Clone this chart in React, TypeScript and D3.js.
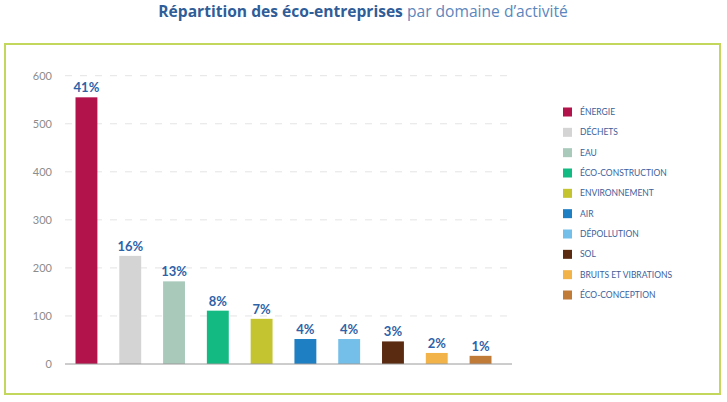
import React from "react";
import * as d3 from "d3";

const categories = [
  "ÉNERGIE",
  "DÉCHETS",
  "EAU",
  "ÉCO-CONSTRUCTION",
  "ENVIRONNEMENT",
  "AIR",
  "DÉPOLLUTION",
  "SOL",
  "BRUITS ET VIBRATIONS",
  "ÉCO-CONCEPTION",
];
const values = [555, 225, 172, 111, 94, 52, 52, 47, 23, 17];
const percents = ["41%", "16%", "13%", "8%", "7%", "4%", "4%", "3%", "2%", "1%"];
const colors = [
  "#b3134b",
  "#d4d4d4",
  "#a9c9bb",
  "#13bb83",
  "#c4c431",
  "#1f7fc3",
  "#74bfe9",
  "#5a2a11",
  "#f2b348",
  "#c07b38",
];
const yTicks = [0, 100, 200, 300, 400, 500, 600];

export default function App() {
  const W = 727;
  const H = 402;
  const font = "Lato, 'Open Sans', sans-serif";
  const x = d3
    .scaleBand<string>()
    .domain(categories)
    .range([65, 502])
    .paddingInner(0.5)
    .paddingOuter(0.24);
  const y = d3.scaleLinear().domain([0, 600]).range([364, 75.7]);
  const gridX0 = 65;
  const gridX1 = 512;
  const legendY = d3
    .scalePoint<string>()
    .domain(categories)
    .range([112, 295]);

  return (
    <svg
      width={W}
      height={H}
      style={{ position: "absolute", left: 0, top: 0, background: "#fff" }}
    >
      <text
        x={363}
        y={16.5}
        textAnchor="middle"
        fontFamily="'Open Sans', sans-serif"
        fontSize={15.6}
      >
        <tspan fill="#2f5d98" fontWeight={700}>
          Répartition des éco-entreprises
        </tspan>
        <tspan fill="#5b86bd"> par domaine d’activité</tspan>
      </text>
      <rect
        x={5}
        y={44}
        width={715}
        height={350}
        fill="#fff"
        stroke="#c3d75c"
        strokeWidth={2}
      />
      {yTicks.map((t) => (
        <g key={t}>
          {t > 0 && (
            <line
              x1={gridX0}
              x2={gridX1}
              y1={y(t)}
              y2={y(t)}
              stroke="#e4e4e4"
              strokeWidth={1}
              strokeDasharray="7 8"
            />
          )}
          <text
            x={52}
            y={y(t)}
            dy="0.35em"
            textAnchor="end"
            fontFamily={font}
            fontSize={11}
            fill="#8c8c8c"
          >
            {t}
          </text>
        </g>
      ))}
      {categories.map((c, i) => (
        <g key={c}>
          <rect
            x={x(c)}
            y={y(values[i])}
            width={x.bandwidth()}
            height={y(0) - y(values[i])}
            fill={colors[i]}
          />
          <text
            x={(x(c) as number) + x.bandwidth() / 2}
            y={y(values[i]) - 5}
            textAnchor="middle"
            fontFamily={font}
            fontSize={13}
            fontWeight={700}
            fill="#2e62a8"
          >
            {percents[i]}
          </text>
        </g>
      ))}
      <line
        x1={gridX0}
        x2={gridX1}
        y1={y(0)}
        y2={y(0)}
        stroke="#9a9a9a"
        strokeWidth={1}
      />
      {categories.map((c, i) => (
        <g key={"lg" + c}>
          <rect
            x={563}
            y={(legendY(c) as number) - 4.5}
            width={9}
            height={9}
            fill={colors[i]}
          />
          <text
            x={580}
            y={legendY(c) as number}
            dy="0.35em"
            fontFamily={font}
            fontSize={8.5}
            fill="#3b619a"
          >
            {c}
          </text>
        </g>
      ))}
    </svg>
  );
}
